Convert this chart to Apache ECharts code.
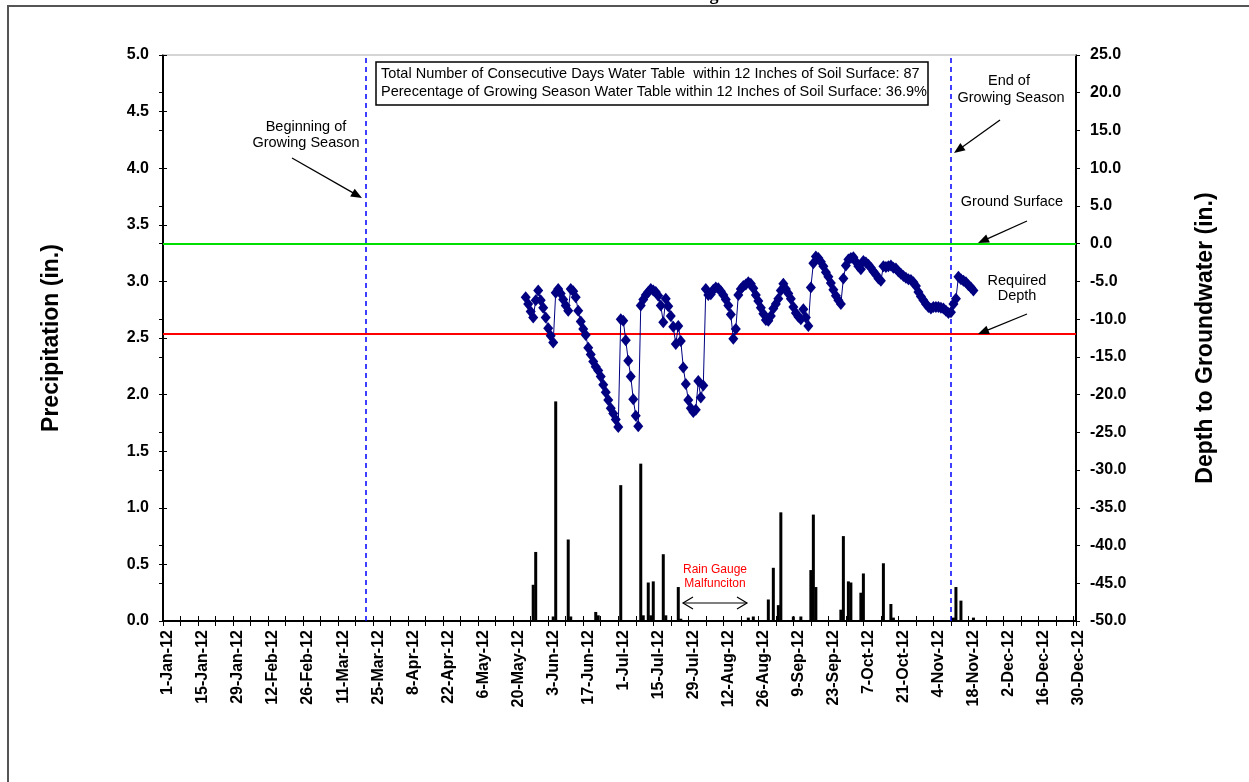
<!DOCTYPE html>
<html><head><meta charset="utf-8">
<script src="https://cdn.jsdelivr.net/npm/echarts@6/dist/echarts.min.js"></script>
<style>html,body{margin:0;padding:0;background:#fff}#c{width:1249px;height:782px}</style>
</head><body><div id="c"></div>
<script>
// ---------- data ----------
const xTickLabels = ['1-Jan-12','15-Jan-12','29-Jan-12','12-Feb-12','26-Feb-12','11-Mar-12','25-Mar-12','8-Apr-12','22-Apr-12','6-May-12','20-May-12','3-Jun-12','17-Jun-12','1-Jul-12','15-Jul-12','29-Jul-12','12-Aug-12','26-Aug-12','9-Sep-12','23-Sep-12','7-Oct-12','21-Oct-12','4-Nov-12','18-Nov-12','2-Dec-12','16-Dec-12','30-Dec-12'];
const precipTicks = [0,0.5,1,1.5,2,2.5,3,3.5,4,4.5,5];
const depthTicks = [-50,-45,-40,-35,-30,-25,-20,-15,-10,-5,0,5,10,15,20,25];

const precipDates = ['2012-05-28','2012-05-29','2012-06-05','2012-06-06','2012-06-11','2012-06-12','2012-06-22','2012-06-23','2012-07-02','2012-07-10','2012-07-11','2012-07-13','2012-07-14','2012-07-15','2012-07-19','2012-07-20','2012-07-25','2012-07-26','2012-08-22','2012-08-24','2012-08-30','2012-09-01','2012-09-03','2012-09-04','2012-09-09','2012-09-12','2012-09-16','2012-09-17','2012-09-18','2012-09-28','2012-09-29','2012-10-01','2012-10-02','2012-10-06','2012-10-07','2012-10-15','2012-10-18','2012-10-19','2012-11-12','2012-11-13','2012-11-15','2012-11-20'];
const precipValues = [0.32,0.61,0.04,1.94,0.72,0.04,0.08,0.05,1.20,1.39,0.05,0.34,0.05,0.35,0.59,0.05,0.30,0.02,0.03,0.04,0.19,0.47,0.14,0.96,0.04,0.04,0.45,0.94,0.30,0.10,0.75,0.35,0.34,0.25,0.42,0.51,0.15,0.03,0.03,0.30,0.18,0.03];

const gwStartDate = '2012-05-25';
const gwDepth = [
-7.1,-8.0,-9.0,-9.8,-7.5,-6.2,-7.5,-8.5,-9.8,-11.2,-12.2,-13.1,-6.5,-6.0,-6.6,-7.4,-8.2,-8.9,-6.0,-6.3,
-7.1,-8.9,-10.3,-11.3,-12.1,-13.8,-14.7,-15.6,-16.3,-16.8,-17.6,-18.7,-19.7,-20.7,-21.8,-22.5,-23.3,-24.3,-10.0,-10.2,
-12.8,-15.5,-17.6,-20.6,-22.8,-24.2,-8.2,-7.4,-6.8,-6.4,-6.0,-6.2,-6.4,-6.9,-8.2,-10.4,-7.3,-8.3,-9.6,-11.0,
-13.3,-10.9,-12.9,-16.4,-18.6,-20.7,-21.8,-22.3,-22.0,-18.2,-20.4,-18.8,-6.0,-6.8,-6.7,-6.1,-5.8,-5.9,-6.3,-6.8,
-7.4,-8.2,-9.4,-12.6,-11.3,-6.8,-6.0,-5.6,-5.4,-5.1,-5.3,-5.9,-6.8,-7.6,-8.5,-9.3,-10.1,-10.2,-9.6,-8.6,
-8.0,-7.3,-6.2,-5.3,-6.0,-6.6,-7.3,-8.4,-9.2,-9.7,-10.0,-8.7,-9.8,-10.9,-5.8,-2.6,-1.7,-1.9,-2.4,-3.0,
-3.8,-4.4,-5.2,-6.1,-6.9,-7.5,-8.0,-4.6,-2.9,-2.1,-1.9,-1.8,-2.4,-3.0,-3.4,-2.3,-2.5,-2.8,-3.2,-3.7,
-4.1,-4.6,-4.9,-3.0,-3.1,-3.0,-2.9,-3.2,-3.3,-3.7,-4.0,-4.3,-4.5,-4.7,-4.8,-5.1,-5.6,-6.4,-7.0,-7.5,
-8.0,-8.4,-8.6,-8.4,-8.4,-8.4,-8.5,-8.6,-8.9,-9.2,-9.1,-8.0,-7.3,-4.4,-4.7,-4.9,-5.1,-5.5,-5.8,-6.2
];

const growingSeasonStart = '2012-03-22';
const growingSeasonEnd = '2012-11-11';
const groundSurface = 0;
const requiredDepth = -12;

// ---------- helpers ----------
const yearStart = Date.UTC(2012,0,1);
function dayOf(s){ const p=s.split('-'); return Math.round((Date.UTC(+p[0],+p[1]-1,+p[2])-yearStart)/86400000); }
const gwStart = dayOf(gwStartDate);
const gwData = gwDepth.map((v,i)=>[gwStart+i, v]);
const precipData = precipDates.map((d,i)=>[dayOf(d), precipValues[i]]);

const FONT = 'Arial, "Liberation Sans", sans-serif';
const chart = echarts.init(document.getElementById('c'), null, {renderer:'canvas'});

function arrow(x1,y1,x2,y2){
  const a=Math.atan2(y2-y1,x2-x1), c=Math.cos(a), s=Math.sin(a), L=11, W=4.5;
  return [
    {type:'line', z:100, shape:{x1,y1,x2:x2-L*0.7*c,y2:y2-L*0.7*s}, style:{stroke:'#000',lineWidth:1.3}},
    {type:'polygon', z:100, shape:{points:[[x2,y2],[x2-L*c+W*s,y2-L*s-W*c],[x2-L*c-W*s,y2-L*s+W*c]]}, style:{fill:'#000'}}
  ];
}
function txt(x,y,t,size,color,align){
  return {type:'text', z:100, x, y, style:{text:t, font:size+'px '+FONT, fill:color||'#000', textAlign:align||'center', textVerticalAlign:'middle'}};
}

const graphics = [
  {type:'rect', z:0, shape:{x:8,y:6,width:1300,height:900}, style:{fill:'none',stroke:'#555',lineWidth:2}},
  {type:'text', z:100, x:714, y:4, style:{text:'g', font:'bold 18px "Liberation Serif", serif', fill:'#000', textAlign:'center', textVerticalAlign:'bottom'}},
  {type:'rect', z:100, shape:{x:376,y:62,width:552,height:43}, style:{fill:'#fff',stroke:'#000',lineWidth:1.5}},
  txt(381,74,'Total Number of Consecutive Days Water Table  within 12 Inches of Soil Surface: 87',14.5,'#000','left'),
  txt(381,92,'Perecentage of Growing Season Water Table within 12 Inches of Soil Surface: 36.9%',14.5,'#000','left'),
  txt(306,127,'Beginning of',14.5), txt(306,143,'Growing Season',14.5),
  txt(1009,81,'End of',14.5), txt(1011,98,'Growing Season',14.5),
  txt(1012,202,'Ground Surface',14.5),
  txt(1017,281,'Required',14.5), txt(1017,296,'Depth',14.5),
  txt(715,570,'Rain Gauge',12,'#ff0000'), txt(715,584,'Malfunciton',12,'#ff0000'),
  ...arrow(292,158,362,198),
  ...arrow(1000,120,954,153),
  ...arrow(1027,221,978,243),
  ...arrow(1027,314,978,334),
  {type:'polyline', z:100, shape:{points:[[683,603],[747,603]]}, style:{stroke:'#000',lineWidth:1.2}},
  {type:'polyline', z:100, shape:{points:[[693,597],[683,603],[693,609]]}, style:{stroke:'#000',lineWidth:1.2,fill:'none'}},
  {type:'polyline', z:100, shape:{points:[[737,597],[747,603],[737,609]]}, style:{stroke:'#000',lineWidth:1.2,fill:'none'}}
];

const tickFmt = v => v.toFixed(1);
const axisNameStyle = {fontFamily:FONT, fontWeight:'bold', fontSize:23, color:'#000'};
const G = {left:163,right:173,top:55,bottom:161,containLabel:false};

const option = {
  animation:false,
  backgroundColor:'#fff',
  grid:[Object.assign({},G), Object.assign({},G)],
  xAxis:[
    {type:'value', gridIndex:0, position:'bottom', min:0, max:365, interval:7,
     axisLine:{show:true,onZero:false,lineStyle:{color:'#000',width:2}},
     axisTick:{show:true,length:5,lineStyle:{color:'#000',width:1}},
     axisLabel:{rotate:90, margin:9, verticalAlign:'top', lineHeight:10, fontFamily:FONT, fontWeight:'bold', fontSize:16, color:'#000',
       formatter:v=> (v%14===0 && xTickLabels[v/14]) ? xTickLabels[v/14] : ''},
     splitLine:{show:false}},
    {type:'value', gridIndex:1, position:'top', min:0, max:365, interval:7,
     axisLine:{show:true,onZero:false,lineStyle:{color:'#c8c8c8',width:1.5}},
     axisTick:{show:false}, axisLabel:{show:false}, splitLine:{show:false}},
    {type:'value', gridIndex:1, position:'bottom', min:0, max:365, interval:7,
     axisLine:{show:false}, axisTick:{show:true,inside:true,length:5,lineStyle:{color:'#000',width:1}},
     axisLabel:{show:false}, splitLine:{show:false}}
  ],
  yAxis:[
    {type:'value', gridIndex:0, position:'left', min:precipTicks[0], max:precipTicks[precipTicks.length-1], interval:0.5,
     name:'Precipitation (in.)', nameLocation:'middle', nameGap:100, nameRotate:90, nameTextStyle:axisNameStyle,
     axisLine:{show:true,onZero:false,lineStyle:{color:'#000',width:2}},
     axisTick:{show:true,length:4,lineStyle:{color:'#000'}},
     axisLabel:{margin:14,fontFamily:FONT,fontWeight:'bold',fontSize:16,color:'#000',formatter:tickFmt},
     splitLine:{show:false}},
    {type:'value', gridIndex:0, position:'right', min:depthTicks[0], max:depthTicks[depthTicks.length-1], interval:5,
     name:'Depth to Groundwater (in.)', nameLocation:'middle', nameGap:118, nameRotate:90, nameTextStyle:axisNameStyle,
     axisLine:{show:true,onZero:false,lineStyle:{color:'#000',width:2}},
     axisTick:{show:true,length:4,lineStyle:{color:'#000'}},
     axisLabel:{margin:14,fontFamily:FONT,fontWeight:'bold',fontSize:16,color:'#000',formatter:tickFmt},
     splitLine:{show:false}},
    {type:'value', gridIndex:1, position:'left', min:precipTicks[0], max:precipTicks[precipTicks.length-1], interval:0.5,
     axisLine:{show:false}, axisTick:{show:true,inside:true,length:4,lineStyle:{color:'#000'}},
     axisLabel:{show:false}, splitLine:{show:false}},
    {type:'value', gridIndex:1, position:'right', min:depthTicks[0], max:depthTicks[depthTicks.length-1], interval:5,
     axisLine:{show:false}, axisTick:{show:true,inside:true,length:4,lineStyle:{color:'#000'}},
     axisLabel:{show:false}, splitLine:{show:false}}
  ],
  series:[
    {type:'bar', name:'Precipitation', xAxisIndex:0, yAxisIndex:0, data:precipData, barWidth:3,
     itemStyle:{color:'#000'}, z:3,
     markLine:{silent:true, symbol:'none', label:{show:false},
       data:[
         {xAxis:dayOf(growingSeasonStart), lineStyle:{color:'#0000ff',type:[5,4],width:1.5}},
         {xAxis:dayOf(growingSeasonEnd), lineStyle:{color:'#0000ff',type:[5,4],width:1.5}}
       ]}},
    {type:'line', name:'Depth to Groundwater', xAxisIndex:0, yAxisIndex:1, data:gwData,
     symbol:'diamond', symbolSize:[10,12], showSymbol:true, showAllSymbol:true,
     itemStyle:{color:'#000080'}, lineStyle:{color:'#000080',width:1}, z:5,
     markLine:{silent:true, symbol:'none', label:{show:false},
       data:[
         {yAxis:groundSurface, lineStyle:{color:'#00e000',type:'solid',width:2}},
         {yAxis:requiredDepth, lineStyle:{color:'#ff0000',type:'solid',width:2}}
       ]}},
    {type:'line', name:'_ticks', xAxisIndex:2, yAxisIndex:2, data:[], silent:true}
  ],
  graphic:graphics
};
chart.setOption(option);
</script></body></html>
